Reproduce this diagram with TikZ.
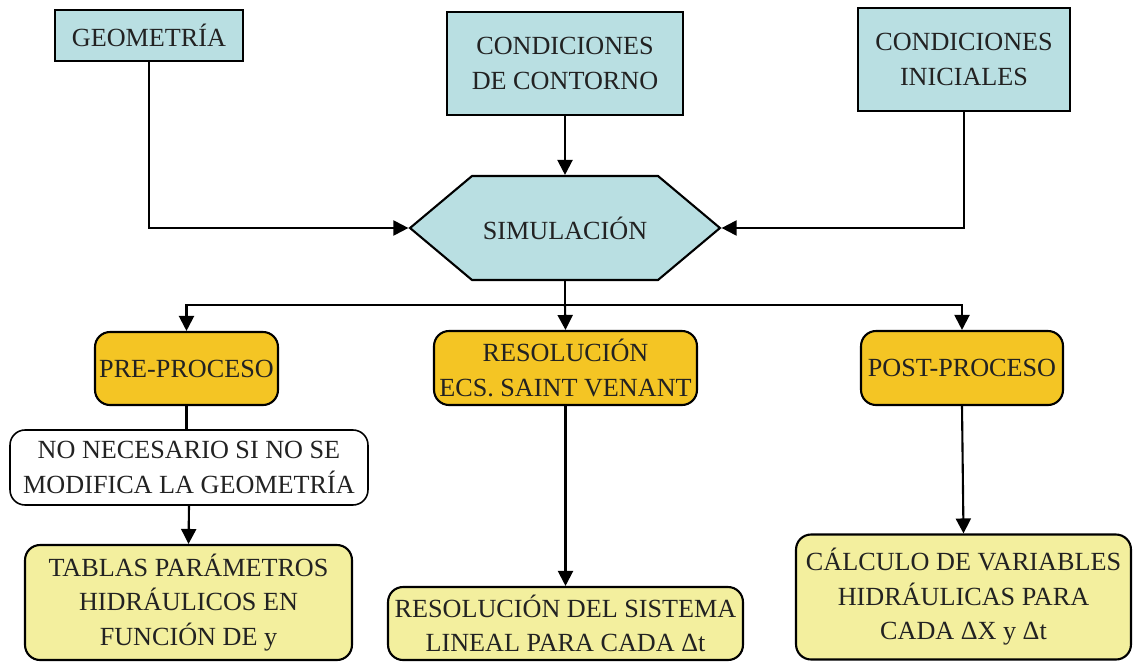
\documentclass[tikz,border=0pt]{standalone}
\usepackage{fontspec}
\setmainfont{Liberation Serif}
\usetikzlibrary{arrows.meta, shapes.symbols}

\definecolor{azulclaro}{HTML}{B9DFE2}
\definecolor{naranja}{HTML}{F4C524}
\definecolor{amarillo}{HTML}{F3EF9E}
\definecolor{texto}{HTML}{222222}

\tikzset{
	base/.style={draw, line width=1.2pt, text=texto, align=center, inner sep=2pt,
		font=\fontsize{14.9}{19.6}\selectfont},
	dato/.style={base, rectangle, fill=azulclaro},
	proceso/.style={base, rectangle, rounded corners=0.3cm, fill=naranja},
	nota/.style={base, rectangle, rounded corners=0.3cm, fill=white, line width=0.9pt},
	resultado/.style={base, rectangle, rounded corners=0.3cm, fill=amarillo},
	flecha/.style={line width=1.2pt, -{Triangle[length=0.3cm, width=0.3cm]}},
	linea/.style={line width=1.2pt}
}

\begin{document}
\begin{tikzpicture}[x=0.02cm, y={(0cm,-0.02cm)}]
	\useasboundingbox (0, 0) rectangle (1135, 662);

	% entradas
	\node[dato, minimum width=3.76cm, minimum height=1.02cm] (geo) at (149, 35.5) {GEOMETRÍA};
	\node[dato, minimum width=4.72cm, minimum height=2.06cm] (contorno) at (565, 63.5) {CONDICIONES\\DE CONTORNO};
	\node[dato, minimum width=4.24cm, minimum height=2.06cm] (iniciales) at (964, 59.5) {CONDICIONES\\INICIALES};

	\node[base, shape=signal, signal to=west and east, signal pointer angle=80, fill=azulclaro,
		minimum width=6.2cm, minimum height=2.08cm] (sim) at (565, 228) {SIMULACIÓN};

	% etapas
	\coordinate (bus) at (565, 305);
	\node[proceso, minimum width=3.66cm, minimum height=1.46cm] (pre) at (186.5, 368.5) {PRE-PROCESO};
	\node[proceso, minimum width=5.26cm, minimum height=1.48cm] (res) at (565.5, 368) {RESOLUCIÓN\\ECS. SAINT VENANT};
	\node[proceso, minimum width=4.04cm, minimum height=1.48cm] (post) at (962, 368) {POST-PROCESO};

	\node[nota, minimum width=7.16cm, minimum height=1.5cm] (nonec) at (189, 467.5) {NO NECESARIO SI NO SE\\MODIFICA LA GEOMETRÍA};

	% resultados
	\node[resultado, minimum width=6.54cm, minimum height=2.3cm] (tablas) at (188.5, 602.5) {TABLAS PARÁMETROS\\HIDRÁULICOS EN\\FUNCIÓN DE y};
	\node[resultado, minimum width=7.1cm, minimum height=1.46cm] (sistema) at (565.5, 623.5) {RESOLUCIÓN DEL SISTEMA\\LINEAL PARA CADA Δt};
	\node[resultado, minimum width=6.7cm, minimum height=2.5cm] (calculo) at (963.5, 597) {CÁLCULO DE VARIABLES\\HIDRÁULICAS PARA\\CADA ΔX y Δt};

	\draw[flecha] (geo.south) |- (sim.west);
	\draw[flecha] (contorno.south) -- (sim.north);
	\draw[flecha] (iniciales.south) |- (sim.east);

	\draw[linea] (sim.south) -- (bus);
	\draw[flecha] (bus) -| (pre.north);
	\draw[flecha] (bus) -- (res.north);
	\draw[flecha] (bus) -| (post.north);

	\draw[linea] (pre.south) -- (pre.south |- nonec.north);
	\draw[flecha] (nonec.south) -- (tablas.north);
	\draw[flecha] (res.south) -- (sistema.north);
	\draw[flecha] (post.south) -- (calculo.north);
\end{tikzpicture}
\end{document}
